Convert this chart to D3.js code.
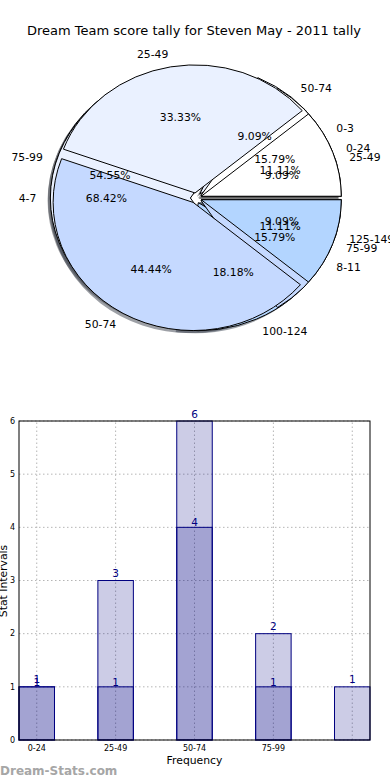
<!DOCTYPE html>
<html>
<head>
<meta charset="utf-8">
<script src="https://cdn.jsdelivr.net/npm/d3@7"></script>
<style>
  html, body { margin: 0; padding: 0; background: #fff; }
  svg { display: block; font-family: "DejaVu Sans", sans-serif; }
</style>
</head>
<body>
<svg id="chart" width="390" height="780"></svg>
<script>
// ---------- data ----------
const titleText = "Dream Team score tally for Steven May - 2011 tally";

const pieALabels = ["25-49", "50-74", "75-99", "100-124", "125-149"];
const pieAValues = [1, 1, 6, 2, 1];

const pieBLabels = ["0-3", "4-7", "8-11"];
const pieBValues = [3, 13, 3];

const pieCLabels = ["0-24", "25-49", "50-74", "75-99"];
const pieCValues = [1, 3, 4, 1];

const barCategories = ["0-24", "25-49", "50-74", "75-99", ""];
const barTotals = [1, 3, 6, 2, 1];
const barSubset = [1, 1, 4, 1, 0];
const yTicks = [0, 1, 2, 3, 4, 5, 6];

const sliceColors = ["#ffffff", "#eaf1ff", "#c5d9ff", "#b3d5ff", "#a3c8ff"];

// ---------- setup ----------
const svg = d3.select("#chart");

svg.append("text")
  .attr("x", 194).attr("y", 35)
  .attr("text-anchor", "middle")
  .attr("font-size", 13)
  .attr("fill", "#000")
  .text(titleText);

// ---------- pies ----------
const cx = 196, cy = 198, rx = 140, ry = 128, explode = 0.04;
const pies = [
  { labels: pieALabels, values: pieAValues },
  { labels: pieBLabels, values: pieBValues },
  { labels: pieCLabels, values: pieCValues }
];

const pieGen = d3.pie().sort(null).value(d => d)
  .startAngle(Math.PI / 2).endAngle(Math.PI / 2 - 2 * Math.PI);
const arcGen = d3.arc().innerRadius(0).outerRadius(1);

const shadowLayer = svg.append("g");
const wedgeLayer = svg.append("g");
const textLayer = svg.append("g");

pies.forEach(p => {
  const arcs = pieGen(p.values);
  const total = d3.sum(p.values);
  arcs.forEach((a, i) => {
    const mid = (a.startAngle + a.endAngle) / 2;
    const theta = Math.PI / 2 - mid; // matplotlib angle
    const ox = cx + explode * rx * Math.cos(theta);
    const oy = cy - explode * ry * Math.sin(theta);
    const col = d3.rgb(sliceColors[i % sliceColors.length]);
    // shadow
    shadowLayer.append("path")
      .attr("d", arcGen(a))
      .attr("transform", `translate(${ox - 0.02 * rx},${oy + 0.02 * ry}) scale(${rx},${ry})`)
      .attr("fill", d3.rgb(col.r * 0.3, col.g * 0.3, col.b * 0.3))
      .attr("fill-opacity", 0.5);
    wedgeLayer.append("path")
      .attr("d", arcGen(a))
      .attr("transform", `translate(${ox},${oy}) scale(${rx},${ry})`)
      .attr("fill", col)
      .attr("stroke", "#000")
      .attr("stroke-width", 1)
      .attr("vector-effect", "non-scaling-stroke")
      .attr("stroke-linejoin", "miter");
    // label
    const lx = ox + 1.1 * rx * Math.cos(theta);
    const ly = oy - 1.1 * ry * Math.sin(theta);
    textLayer.append("text")
      .attr("x", lx).attr("y", ly)
      .attr("dy", "0.35em")
      .attr("text-anchor", Math.cos(theta) > 0 ? "start" : "end")
      .attr("font-size", 10.8)
      .text(p.labels[i]);
    const px = ox + 0.6 * rx * Math.cos(theta);
    const py = oy - 0.6 * ry * Math.sin(theta);
    textLayer.append("text")
      .attr("x", px).attr("y", py)
      .attr("dy", "0.35em")
      .attr("text-anchor", "middle")
      .attr("font-size", 10.8)
      .text((p.values[i] / total * 100).toFixed(2) + "%");
  });
});

// ---------- bar chart ----------
const barWidth = 0.45;
const x = d3.scaleLinear().domain([0, barCategories.length - 1 + barWidth]).range([19, 370]);
const y = d3.scaleLinear().domain([0, 6]).range([740, 421]);
const navy = "#000080";

const gb = svg.append("g");

// grid
gb.selectAll(".hg").data(yTicks).join("line")
  .attr("x1", x.range()[0]).attr("x2", x.range()[1])
  .attr("y1", d => y(d)).attr("y2", d => y(d))
  .attr("stroke", "#b5b5b5").attr("stroke-width", 1)
  .attr("stroke-dasharray", "1.5,2.5");
gb.selectAll(".vg").data(barCategories).join("line")
  .attr("x1", (d, i) => x(i + barWidth / 2)).attr("x2", (d, i) => x(i + barWidth / 2))
  .attr("y1", y(0)).attr("y2", y(6))
  .attr("stroke", "#b5b5b5").attr("stroke-width", 1)
  .attr("stroke-dasharray", "1.5,2.5");

function drawBars(vals, labelOffset) {
  vals.forEach((v, i) => {
    if (v <= 0) return;
    gb.append("rect")
      .attr("x", x(i)).attr("y", y(v))
      .attr("width", x(i + barWidth) - x(i))
      .attr("height", y(0) - y(v))
      .attr("fill", navy).attr("fill-opacity", 0.2)
      .attr("stroke", navy).attr("stroke-width", 1);
    gb.append("text")
      .attr("x", x(i + barWidth / 2)).attr("y", y(v) - labelOffset)
      .attr("text-anchor", "middle")
      .attr("font-size", 10.5)
      .attr("fill", navy)
      .text(v);
  });
}
drawBars(barTotals, 3.5);
drawBars(barSubset, 1);

// frame
gb.append("rect")
  .attr("x", x.range()[0]).attr("y", y(6))
  .attr("width", x.range()[1] - x.range()[0])
  .attr("height", y(0) - y(6))
  .attr("fill", "none").attr("stroke", "#000").attr("stroke-width", 1);

// y ticks
gb.selectAll(".yt").data(yTicks).join("text")
  .attr("x", 15).attr("y", d => y(d))
  .attr("dy", "0.35em")
  .attr("text-anchor", "end")
  .attr("font-size", 8)
  .text(d => d);
// x ticks
gb.selectAll(".xt").data(barCategories).join("text")
  .attr("x", (d, i) => x(i + barWidth / 2)).attr("y", 751)
  .attr("text-anchor", "middle")
  .attr("font-size", 8)
  .text(d => d);

gb.append("text")
  .attr("x", x((barCategories.length - 1 + barWidth) / 2)).attr("y", 764)
  .attr("text-anchor", "middle")
  .attr("font-size", 10.8)
  .text("Frequency");

gb.append("text")
  .attr("transform", "translate(7,581) rotate(-90)")
  .attr("text-anchor", "middle")
  .attr("font-size", 10.8)
  .text("Stat Intervals");

svg.append("text")
  .attr("x", 0).attr("y", 775)
  .attr("font-size", 12)
  .attr("fill", "#a6a6a6")
  .attr("font-weight", "bold")
  .text("Dream-Stats.com");
</script>
</body>
</html>
